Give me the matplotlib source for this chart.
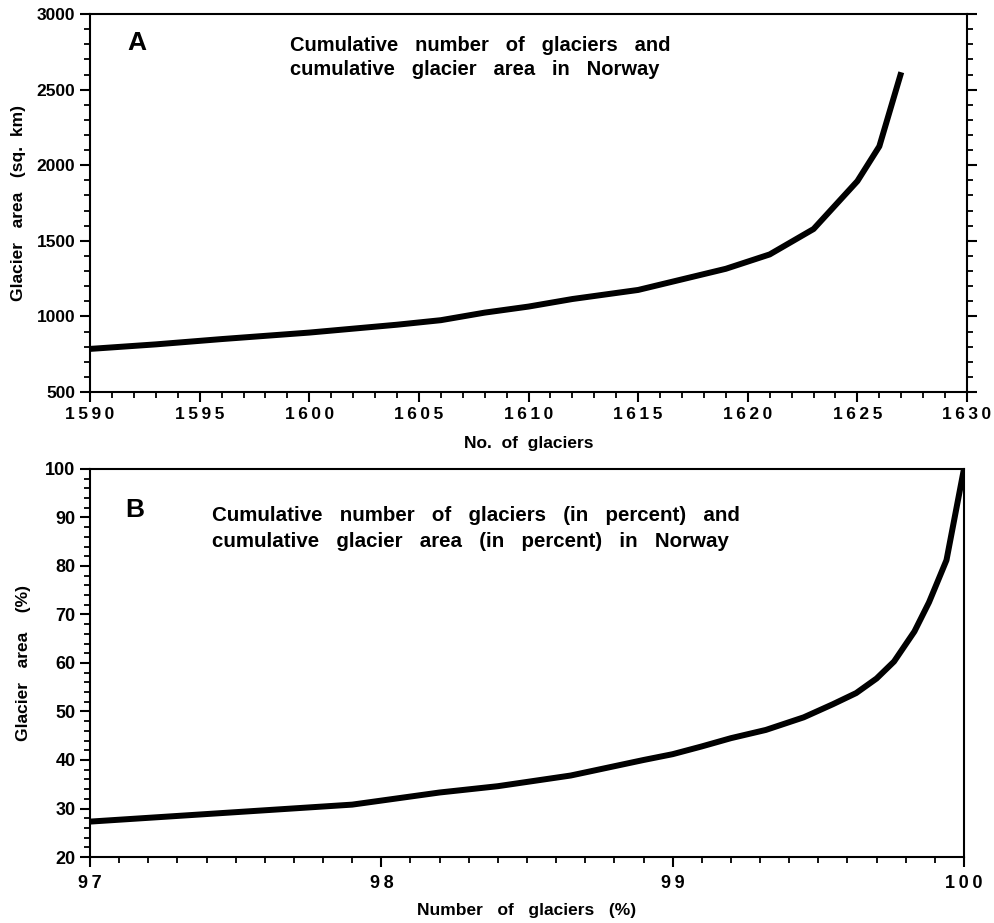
import matplotlib
matplotlib.use("Agg")
import matplotlib.pyplot as plt
from matplotlib.ticker import MultipleLocator, FixedLocator

plt.rcParams['font.family'] = ['Liberation Sans', 'DejaVu Sans']
plt.rcParams['font.weight'] = 'bold'

# panel A: cumulative number of glaciers vs cumulative area (sq. km)
count_a = [1590, 1593, 1596, 1600, 1604, 1606, 1608, 1610, 1612, 1615,
           1617, 1619, 1621, 1623, 1625, 1626, 1627]
area_a = [785, 815, 850, 893, 945, 975, 1025, 1065, 1115, 1175,
          1245, 1315, 1410, 1578, 1895, 2125, 2615]

# panel B: same in percent
count_b = [97.0, 97.9, 98.2, 98.4, 98.65, 98.9, 99.0, 99.1, 99.2, 99.32,
           99.45, 99.55, 99.63, 99.7, 99.76, 99.83, 99.88, 99.94, 100.0]
area_b = [27.3, 30.8, 33.3, 34.6, 36.8, 40.0, 41.2, 42.8, 44.5, 46.2,
          48.8, 51.5, 53.8, 56.8, 60.3, 66.5, 72.5, 81.2, 100.0]

xticks_a = [1590, 1595, 1600, 1605, 1610, 1615, 1620, 1625, 1630]
xticks_b = [97, 98, 99, 100]


def spaced(v):
    # the original tick labels are letter-spaced
    return "\u2009".join(str(v))


fig = plt.figure(figsize=(9.95, 9.23), dpi=100)

# ---- panel A
ax = fig.add_axes([0.0905, 0.5753, 0.8814, 0.4095])
ax.plot(count_a, area_a, color='black', lw=4.3, solid_capstyle='butt')
ax.set_xlim(1590, 1630)
ax.set_ylim(500, 3000)
ax.xaxis.set_major_locator(FixedLocator(xticks_a))
ax.set_xticklabels([spaced(v) for v in xticks_a], fontsize=13, fontweight='bold')
ax.xaxis.set_minor_locator(MultipleLocator(1))
ax.yaxis.set_major_locator(MultipleLocator(500))
ax.yaxis.set_minor_locator(MultipleLocator(100))
ax.tick_params(axis='both', which='major', direction='out', length=7, width=1.5, labelsize=12.5)
ax.tick_params(axis='both', which='minor', direction='out', length=4, width=1.3)
ax.tick_params(axis='y', which='both', right=True)
ax.tick_params(axis='x', pad=4)
for s in ax.spines.values():
    s.set_linewidth(1.5)
ax.set_xlabel("No.  of  glaciers", fontsize=12.5, fontweight='bold', labelpad=10)
ax.set_ylabel("Glacier   area   (sq.  km)", fontsize=12.5, fontweight='bold', labelpad=8)
ax.text(0.043, 0.905, "A", transform=ax.transAxes, fontsize=19, fontweight='bold')
ax.text(0.228, 0.84, "Cumulative   number   of   glaciers   and\ncumulative   glacier   area   in   Norway",
        transform=ax.transAxes, fontsize=14.5, fontweight='bold', linespacing=1.3)

# ---- panel B
bx = fig.add_axes([0.0905, 0.0715, 0.8783, 0.4204])
bx.plot(count_b, area_b, color='black', lw=4.3, solid_capstyle='butt')
bx.set_xlim(97, 100)
bx.set_ylim(20, 100)
bx.xaxis.set_major_locator(FixedLocator(xticks_b))
bx.set_xticklabels([spaced(v) for v in xticks_b], fontsize=13.5, fontweight='bold')
bx.xaxis.set_minor_locator(MultipleLocator(0.1))
bx.yaxis.set_major_locator(MultipleLocator(10))
bx.yaxis.set_minor_locator(MultipleLocator(2))
bx.tick_params(axis='both', which='major', direction='out', length=7, width=1.5, labelsize=13)
bx.tick_params(axis='both', which='minor', direction='out', length=4, width=1.3)
bx.tick_params(axis='x', pad=6)
for s in bx.spines.values():
    s.set_linewidth(1.5)
bx.set_xlabel("Number   of   glaciers   (%)", fontsize=12.5, fontweight='bold', labelpad=8)
bx.set_ylabel("Glacier   area    (%)", fontsize=12.5, fontweight='bold', labelpad=10)
bx.text(0.04, 0.875, "B", transform=bx.transAxes, fontsize=19, fontweight='bold')
bx.text(0.139, 0.8, "Cumulative   number   of   glaciers   (in   percent)   and\n"
        "cumulative   glacier   area   (in   percent)   in   Norway",
        transform=bx.transAxes, fontsize=14.8, fontweight='bold', linespacing=1.45)

fig.savefig("out.png", dpi=100)
